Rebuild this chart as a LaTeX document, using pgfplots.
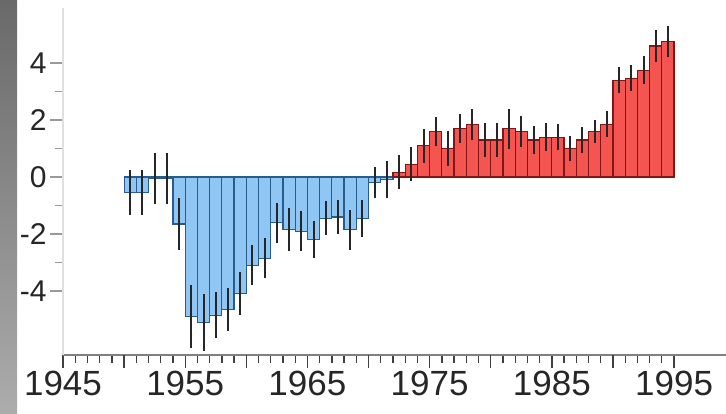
\documentclass[border=0pt]{standalone}
\usepackage{fontspec}
\setmainfont{Liberation Sans}
\usepackage{pgfplots}
\pgfplotsset{compat=1.18}
\usepackage{pgfplotstable}

\definecolor{barblue}{RGB}{144,198,244}
\definecolor{edgeblue}{RGB}{40,92,142}
\definecolor{barred}{RGB}{245,85,80}
\definecolor{edgered}{RGB}{130,22,22}
\definecolor{stripdark}{RGB}{105,105,105}
\definecolor{striplight}{RGB}{172,172,172}

\pgfplotstableread{
x y e
1950.5 -0.55 0.8
1951.5 -0.55 0.8
1952.5 -0.05 0.9
1953.5 -0.05 0.9
1954.5 -1.65 0.9
1955.5 -4.9 1.1
1956.5 -5.1 1.0
1957.5 -4.85 0.8
1958.5 -4.65 0.75
1959.5 -4.1 0.75
1960.5 -3.1 0.7
1961.5 -2.85 0.7
1962.5 -1.6 0.7
1963.5 -1.85 0.75
1964.5 -1.9 0.7
1965.5 -2.2 0.65
1966.5 -1.45 0.6
1967.5 -1.4 0.6
1968.5 -1.85 0.7
1969.5 -1.45 0.65
1970.5 -0.2 0.55
1971.5 -0.1 0.65
}\cooltable

\pgfplotstableread{
x y e
1972.5 0.17 0.6
1973.5 0.45 0.6
1974.5 1.1 0.6
1975.5 1.6 0.5
1976.5 1.0 0.6
1977.5 1.7 0.5
1978.5 1.85 0.55
1979.5 1.3 0.6
1980.5 1.3 0.6
1981.5 1.7 0.7
1982.5 1.6 0.55
1983.5 1.3 0.5
1984.5 1.4 0.5
1985.5 1.4 0.45
1986.5 1.0 0.45
1987.5 1.3 0.45
1988.5 1.6 0.4
1989.5 1.85 0.45
1990.5 3.4 0.45
1991.5 3.47 0.45
1992.5 3.75 0.5
1993.5 4.6 0.55
1994.5 4.75 0.55
}\warmtable

\begin{document}
\begin{tikzpicture}[x=1pt,y=1pt]
\useasboundingbox (0,0) rectangle (726,413);
\shade[top color=stripdark, bottom color=striplight] (0,0) rectangle (17,413);
\begin{axis}[
  at={(63pt,58pt)}, anchor=south west,
  scale only axis, width=663pt, height=347pt,
  xmin=1945, xmax=1999.25, ymin=-6.245, ymax=5.93,
  axis x line*=bottom, axis y line*=left,
  x axis line style={-, draw=black!50, line width=2.5pt},
  y axis line style={-, draw=black!12, line width=1.5pt},
  tick align=outside,
  major tick length=13pt, minor tick length=8pt,
  xtick={1945,1955,...,1995},
  xticklabels={1945,1955,1965,1975,1985,1995},
  extra x ticks={1950,1960,...,1990},
  extra x tick labels={},
  minor x tick num=9,
  x tick style={draw=black!75, line width=1.3pt},
  ytick={-4,-2,0,2,4},
  yticklabels={-4,-2,0,2,4},
  minor y tick num=1,
  y tick style={draw=black!40, line width=1.5pt},
  xticklabel style={font=\fontsize{35}{35}\selectfont, text=black!85},
  yticklabel style={font=\fontsize{30}{30}\selectfont, text=black!85},
  ybar, bar width=1, bar shift=0pt,
  clip=false,
]
\addplot[fill=barblue, draw=edgeblue, line width=1.2pt,
  error bars/.cd, y dir=both, y explicit, error mark=none,
  error bar style={draw=black!85, line width=2pt}]
  table[x=x, y=y, y error=e] {\cooltable};
\addplot[fill=barred, draw=edgered, line width=1.2pt,
  error bars/.cd, y dir=both, y explicit, error mark=none,
  error bar style={draw=black!85, line width=2pt}]
  table[x=x, y=y, y error=e] {\warmtable};
\end{axis}
\end{tikzpicture}
\end{document}
